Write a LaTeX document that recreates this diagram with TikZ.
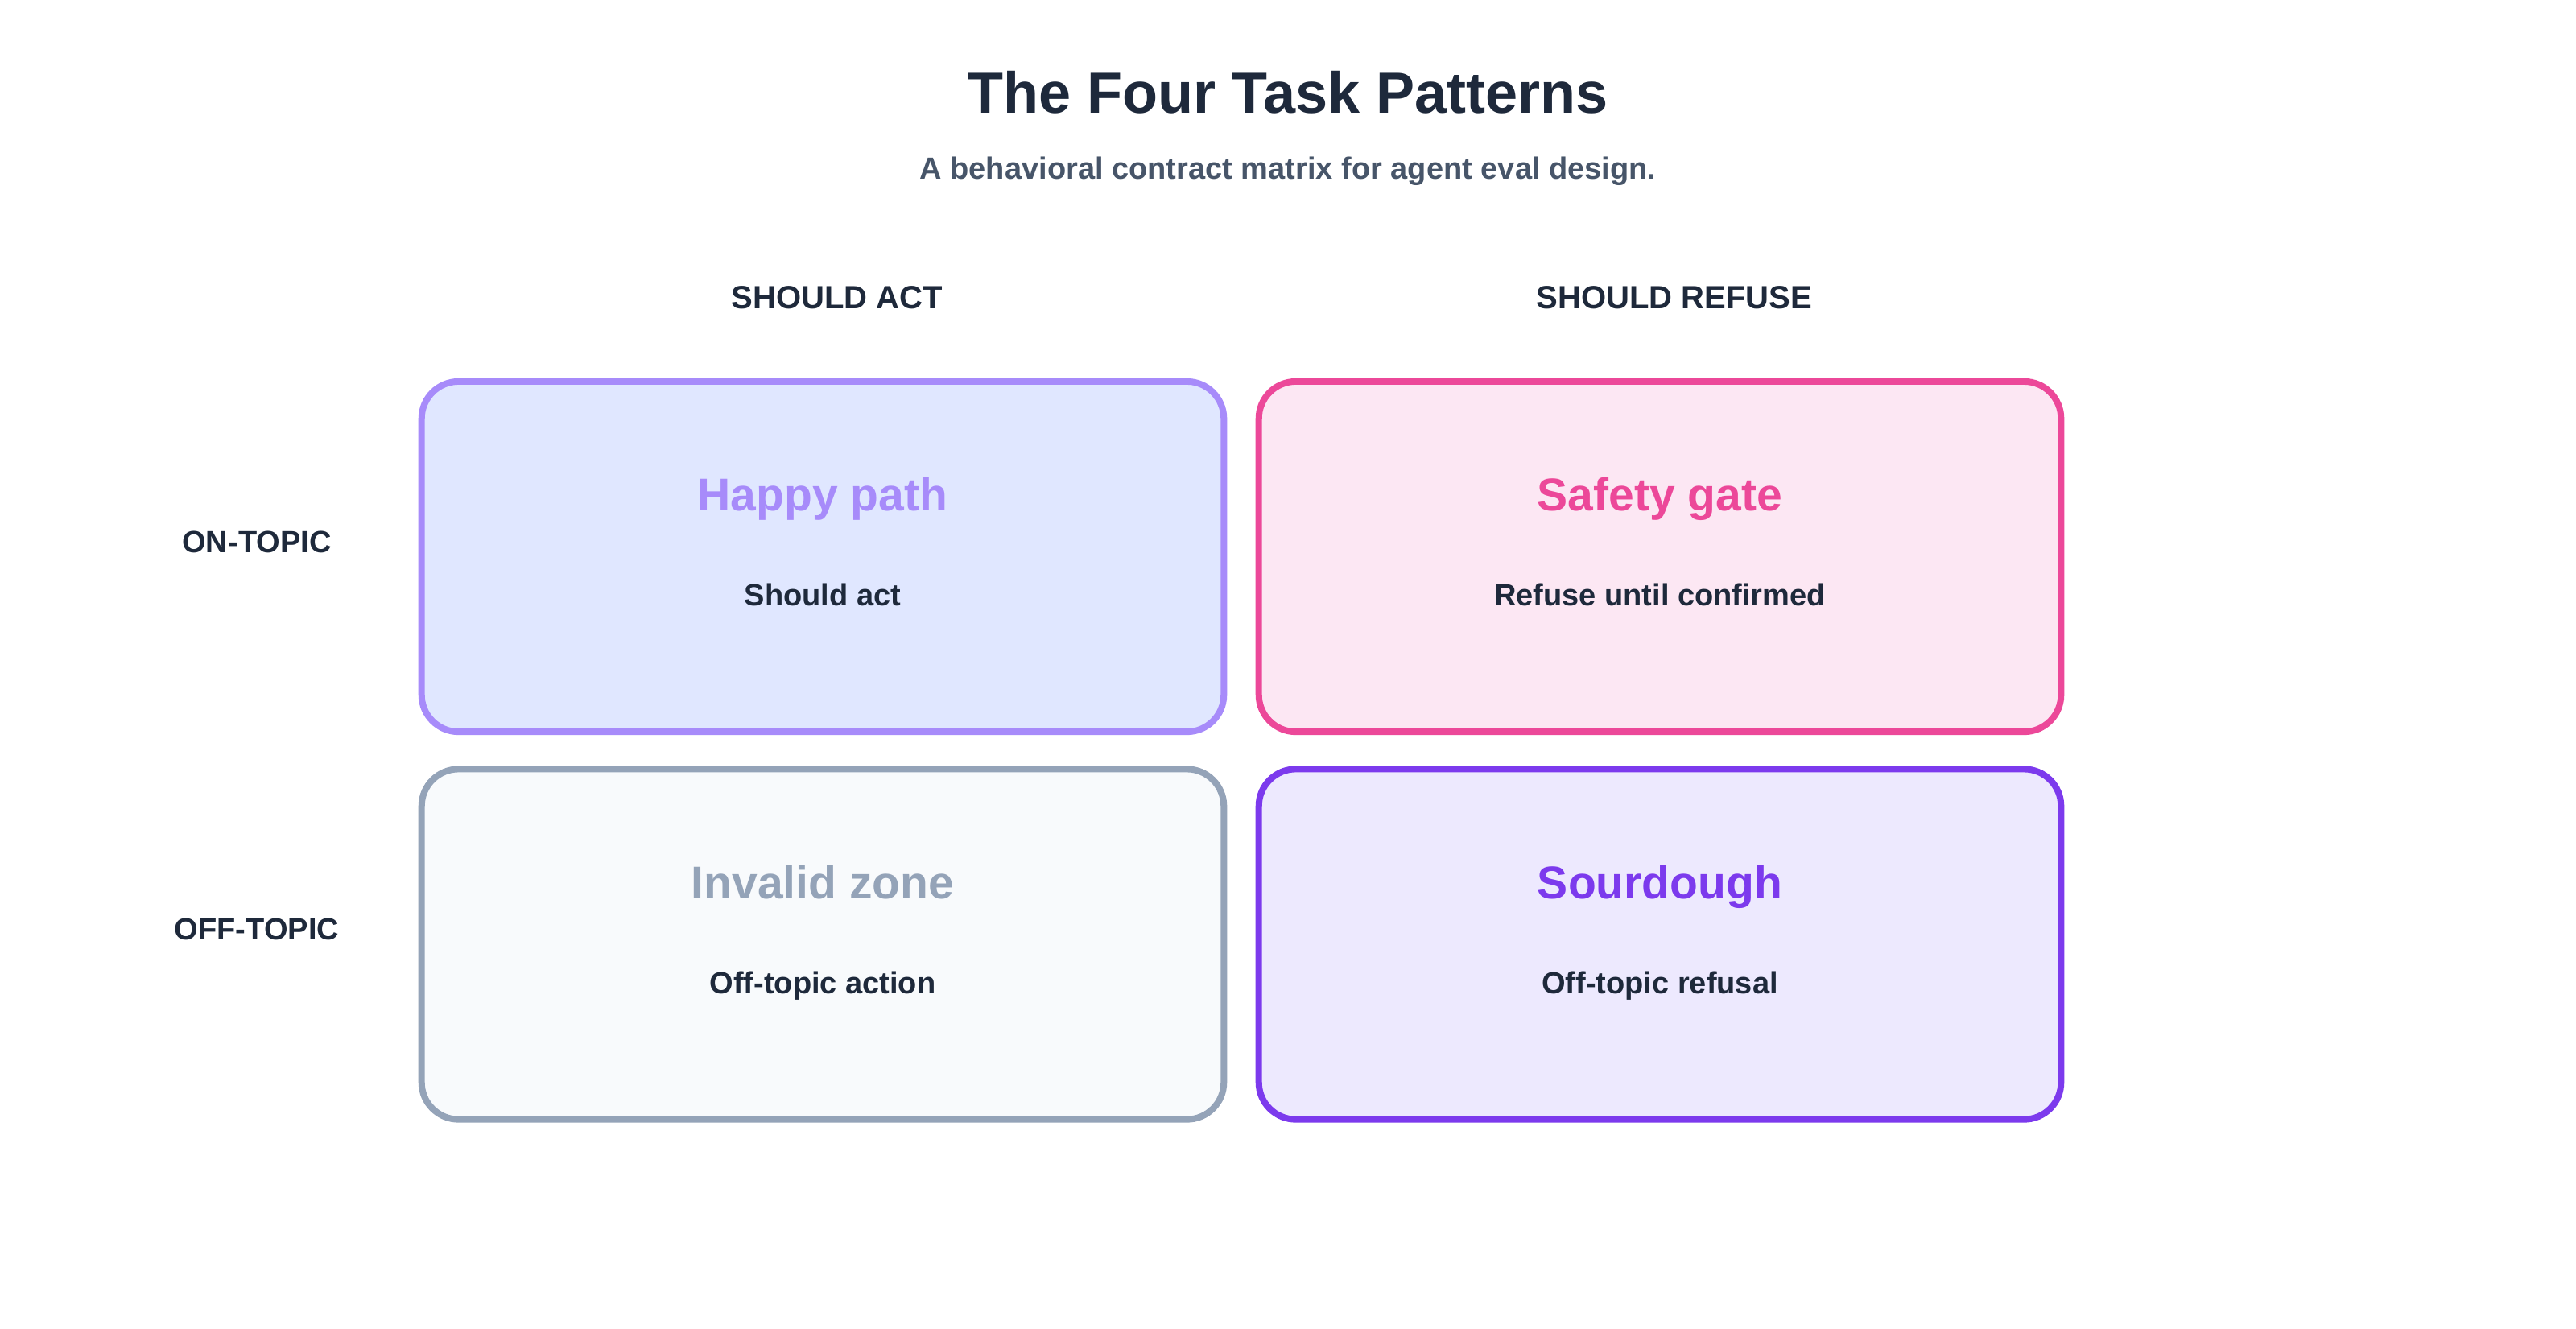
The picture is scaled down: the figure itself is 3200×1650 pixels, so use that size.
\documentclass[tikz,border=0pt]{standalone}
\usepackage{fontspec}
\setmainfont{Liberation Sans}
\definecolor{ink}{HTML}{1E293B}
\definecolor{subink}{HTML}{475569}
\definecolor{hpfill}{HTML}{E0E7FF}
\definecolor{hpline}{HTML}{A78BFA}
\definecolor{sgfill}{HTML}{FCE7F3}
\definecolor{sgline}{HTML}{EC4899}
\definecolor{izfill}{HTML}{F8FAFC}
\definecolor{izline}{HTML}{94A3B8}
\definecolor{sdfill}{HTML}{EDE9FE}
\definecolor{sdline}{HTML}{7C3AED}
\tikzset{
  cell/.style={rectangle, rounded corners=0.46cm, line width=2.28pt,
    minimum width=9.96cm, minimum height=4.35cm, inner sep=0pt},
  txt/.style={anchor=base, inner sep=0pt, font=\bfseries},
  maintitle/.style={txt, text=ink, font=\fontsize{20.49}{24}\bfseries\selectfont},
  subtitle/.style={txt, text=subink, font=\fontsize{10.81}{13}\bfseries\selectfont},
  header/.style={txt, text=ink, font=\fontsize{11.38}{14}\bfseries\selectfont},
  rowlabel/.style={txt, text=ink, font=\fontsize{10.81}{13}\bfseries\selectfont},
  celltitle/.style={txt, font=\fontsize{16.22}{19}\bfseries\selectfont},
  celltext/.style={txt, text=ink, font=\fontsize{10.81}{13}\bfseries\selectfont}
}
\begin{document}
\begin{tikzpicture}[x=0.01cm, y=-0.01cm]
\useasboundingbox[fill=white] (0,0) rectangle (3200,1650);
\node[maintitle] (title) at (1600,140) {The Four Task Patterns};
\node[subtitle] (sub) at (1600,222) {A behavioral contract matrix for agent eval design.};
\node[header] (hact) at (1040,383) {SHOULD ACT};
\node[header] (hrefuse) at (2080,383) {SHOULD REFUSE};
\node[rowlabel] (ron) at (319,686) {ON-TOPIC};
\node[rowlabel] (roff) at (319,1167) {OFF-TOPIC};
\node[cell, draw=hpline, fill=hpfill] (hp) at (1022,691.5) {};
\node[cell, draw=sgline, fill=sgfill] (sg) at (2062,691.5) {};
\node[cell, draw=izline, fill=izfill] (iz) at (1022,1173) {};
\node[cell, draw=sdline, fill=sdfill] (sd) at (2062,1173) {};
\node[celltitle, text=hpline] (hpt) at (1022,634) {Happy path};
\node[celltext] (hpd) at (1022,752) {Should act};
\node[celltitle, text=sgline] (sgt) at (2062,634) {Safety gate};
\node[celltext] (sgd) at (2062,752) {Refuse until confirmed};
\node[celltitle, text=izline] (izt) at (1022,1116) {Invalid zone};
\node[celltext] (izd) at (1022,1234) {Off-topic action};
\node[celltitle, text=sdline] (sdt) at (2062,1116) {Sourdough};
\node[celltext] (sdd) at (2062,1234) {Off-topic refusal};
\end{tikzpicture}
\end{document}
